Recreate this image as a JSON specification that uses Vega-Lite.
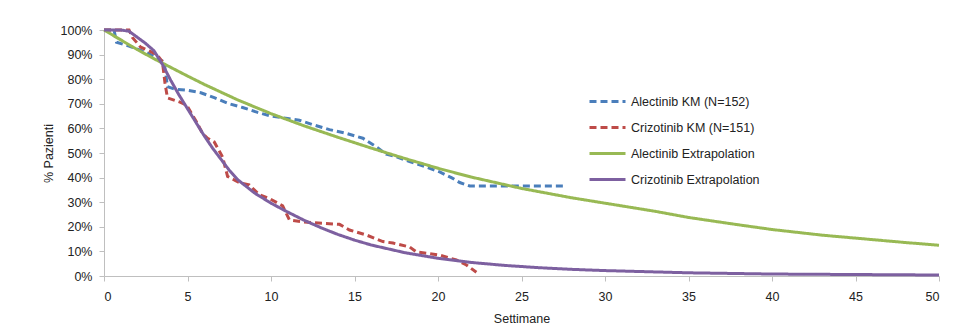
{
  "$schema": "https://vega.github.io/schema/vega-lite/v6.json",
  "width": 835,
  "height": 246,
  "autosize": {"type": "none"},
  "padding": {"left": 104, "top": 30, "right": 31, "bottom": 57},
  "background": "white",
  "config": {
    "view": {"stroke": null},
    "font": "Liberation Sans",
    "axis": {"labelFont": "Liberation Sans", "titleFont": "Liberation Sans", "labelColor": "#222", "titleColor": "#222", "titleFontWeight": "normal", "labelFontSize": 12.5, "titleFontSize": 12.5, "domainColor": "#bfbfbf", "tickColor": "#bfbfbf", "grid": false}
  },
  "data": {"values": [
    {"s": "Alectinib KM (N=152)", "w": 0, "p": 100},
    {"s": "Alectinib KM (N=152)", "w": 0.6, "p": 100},
    {"s": "Alectinib KM (N=152)", "w": 0.75, "p": 95},
    {"s": "Alectinib KM (N=152)", "w": 1.5, "p": 93.5},
    {"s": "Alectinib KM (N=152)", "w": 2.5, "p": 91},
    {"s": "Alectinib KM (N=152)", "w": 3.2, "p": 88.5},
    {"s": "Alectinib KM (N=152)", "w": 3.6, "p": 87},
    {"s": "Alectinib KM (N=152)", "w": 3.8, "p": 77},
    {"s": "Alectinib KM (N=152)", "w": 4.2, "p": 76},
    {"s": "Alectinib KM (N=152)", "w": 5, "p": 75.5},
    {"s": "Alectinib KM (N=152)", "w": 5.8, "p": 74.5},
    {"s": "Alectinib KM (N=152)", "w": 6.6, "p": 72.5},
    {"s": "Alectinib KM (N=152)", "w": 7.5, "p": 70},
    {"s": "Alectinib KM (N=152)", "w": 8.3, "p": 68.5},
    {"s": "Alectinib KM (N=152)", "w": 9.2, "p": 66.5},
    {"s": "Alectinib KM (N=152)", "w": 10, "p": 65},
    {"s": "Alectinib KM (N=152)", "w": 11, "p": 64},
    {"s": "Alectinib KM (N=152)", "w": 11.7, "p": 63.3},
    {"s": "Alectinib KM (N=152)", "w": 12.5, "p": 61.5},
    {"s": "Alectinib KM (N=152)", "w": 13.5, "p": 59.5},
    {"s": "Alectinib KM (N=152)", "w": 14.5, "p": 58},
    {"s": "Alectinib KM (N=152)", "w": 15.5, "p": 56},
    {"s": "Alectinib KM (N=152)", "w": 16.3, "p": 52.5},
    {"s": "Alectinib KM (N=152)", "w": 16.9, "p": 49.5},
    {"s": "Alectinib KM (N=152)", "w": 17.5, "p": 48.5},
    {"s": "Alectinib KM (N=152)", "w": 18.3, "p": 46.5},
    {"s": "Alectinib KM (N=152)", "w": 19.2, "p": 44.5},
    {"s": "Alectinib KM (N=152)", "w": 20.1, "p": 42.3},
    {"s": "Alectinib KM (N=152)", "w": 20.8, "p": 40},
    {"s": "Alectinib KM (N=152)", "w": 21.3, "p": 38},
    {"s": "Alectinib KM (N=152)", "w": 21.9, "p": 36.6},
    {"s": "Alectinib KM (N=152)", "w": 27.6, "p": 36.6},
    {"s": "Crizotinib KM (N=151)", "w": 0, "p": 100},
    {"s": "Crizotinib KM (N=151)", "w": 1.5, "p": 100},
    {"s": "Crizotinib KM (N=151)", "w": 1.7, "p": 97},
    {"s": "Crizotinib KM (N=151)", "w": 2.2, "p": 93},
    {"s": "Crizotinib KM (N=151)", "w": 2.7, "p": 91.5},
    {"s": "Crizotinib KM (N=151)", "w": 3.2, "p": 89.8},
    {"s": "Crizotinib KM (N=151)", "w": 3.5, "p": 87},
    {"s": "Crizotinib KM (N=151)", "w": 3.65, "p": 78.5},
    {"s": "Crizotinib KM (N=151)", "w": 3.8, "p": 72.4},
    {"s": "Crizotinib KM (N=151)", "w": 4.55, "p": 70.7},
    {"s": "Crizotinib KM (N=151)", "w": 4.95, "p": 69.5},
    {"s": "Crizotinib KM (N=151)", "w": 5.55, "p": 62.5},
    {"s": "Crizotinib KM (N=151)", "w": 5.9, "p": 58},
    {"s": "Crizotinib KM (N=151)", "w": 6.2, "p": 56},
    {"s": "Crizotinib KM (N=151)", "w": 6.6, "p": 54.5},
    {"s": "Crizotinib KM (N=151)", "w": 7.1, "p": 48.4},
    {"s": "Crizotinib KM (N=151)", "w": 7.4, "p": 40.5},
    {"s": "Crizotinib KM (N=151)", "w": 8.1, "p": 38},
    {"s": "Crizotinib KM (N=151)", "w": 8.7, "p": 37},
    {"s": "Crizotinib KM (N=151)", "w": 9.3, "p": 33},
    {"s": "Crizotinib KM (N=151)", "w": 9.9, "p": 31.5},
    {"s": "Crizotinib KM (N=151)", "w": 10.7, "p": 28.5},
    {"s": "Crizotinib KM (N=151)", "w": 11.1, "p": 22.8},
    {"s": "Crizotinib KM (N=151)", "w": 11.9, "p": 22},
    {"s": "Crizotinib KM (N=151)", "w": 14.1, "p": 21},
    {"s": "Crizotinib KM (N=151)", "w": 14.7, "p": 18.7},
    {"s": "Crizotinib KM (N=151)", "w": 15.7, "p": 16.7},
    {"s": "Crizotinib KM (N=151)", "w": 16.7, "p": 14},
    {"s": "Crizotinib KM (N=151)", "w": 17.3, "p": 13.4},
    {"s": "Crizotinib KM (N=151)", "w": 18.3, "p": 11.8},
    {"s": "Crizotinib KM (N=151)", "w": 18.7, "p": 9.8},
    {"s": "Crizotinib KM (N=151)", "w": 20.1, "p": 8.5},
    {"s": "Crizotinib KM (N=151)", "w": 21.1, "p": 6.5},
    {"s": "Crizotinib KM (N=151)", "w": 21.7, "p": 4.5},
    {"s": "Crizotinib KM (N=151)", "w": 22.3, "p": 1.5},
    {"s": "Alectinib Extrapolation", "w": 0, "p": 100},
    {"s": "Alectinib Extrapolation", "w": 1, "p": 96},
    {"s": "Alectinib Extrapolation", "w": 2, "p": 92},
    {"s": "Alectinib Extrapolation", "w": 3, "p": 88.3},
    {"s": "Alectinib Extrapolation", "w": 4, "p": 84.8},
    {"s": "Alectinib Extrapolation", "w": 5, "p": 81.3},
    {"s": "Alectinib Extrapolation", "w": 6, "p": 77.9},
    {"s": "Alectinib Extrapolation", "w": 8, "p": 71.6},
    {"s": "Alectinib Extrapolation", "w": 10, "p": 66},
    {"s": "Alectinib Extrapolation", "w": 12, "p": 61},
    {"s": "Alectinib Extrapolation", "w": 14, "p": 56.4},
    {"s": "Alectinib Extrapolation", "w": 16, "p": 52},
    {"s": "Alectinib Extrapolation", "w": 18, "p": 47.8},
    {"s": "Alectinib Extrapolation", "w": 20, "p": 43.8},
    {"s": "Alectinib Extrapolation", "w": 22, "p": 40.2},
    {"s": "Alectinib Extrapolation", "w": 25, "p": 35.6},
    {"s": "Alectinib Extrapolation", "w": 28, "p": 31.8},
    {"s": "Alectinib Extrapolation", "w": 30, "p": 29.6},
    {"s": "Alectinib Extrapolation", "w": 33, "p": 26.3},
    {"s": "Alectinib Extrapolation", "w": 35, "p": 23.8},
    {"s": "Alectinib Extrapolation", "w": 38, "p": 20.8},
    {"s": "Alectinib Extrapolation", "w": 40, "p": 18.9},
    {"s": "Alectinib Extrapolation", "w": 43, "p": 16.6},
    {"s": "Alectinib Extrapolation", "w": 45, "p": 15.4},
    {"s": "Alectinib Extrapolation", "w": 48, "p": 13.6},
    {"s": "Alectinib Extrapolation", "w": 50, "p": 12.5},
    {"s": "Crizotinib Extrapolation", "w": 0, "p": 100},
    {"s": "Crizotinib Extrapolation", "w": 1, "p": 100},
    {"s": "Crizotinib Extrapolation", "w": 1.5, "p": 99.5},
    {"s": "Crizotinib Extrapolation", "w": 2, "p": 97},
    {"s": "Crizotinib Extrapolation", "w": 2.5, "p": 94.5},
    {"s": "Crizotinib Extrapolation", "w": 3, "p": 91.5},
    {"s": "Crizotinib Extrapolation", "w": 3.5, "p": 86},
    {"s": "Crizotinib Extrapolation", "w": 4, "p": 79.5},
    {"s": "Crizotinib Extrapolation", "w": 4.5, "p": 73.5},
    {"s": "Crizotinib Extrapolation", "w": 5, "p": 68},
    {"s": "Crizotinib Extrapolation", "w": 5.5, "p": 62.5},
    {"s": "Crizotinib Extrapolation", "w": 6, "p": 57},
    {"s": "Crizotinib Extrapolation", "w": 6.5, "p": 52},
    {"s": "Crizotinib Extrapolation", "w": 7, "p": 47.5},
    {"s": "Crizotinib Extrapolation", "w": 7.5, "p": 43},
    {"s": "Crizotinib Extrapolation", "w": 8, "p": 39.2},
    {"s": "Crizotinib Extrapolation", "w": 9, "p": 33.8},
    {"s": "Crizotinib Extrapolation", "w": 10, "p": 29.6},
    {"s": "Crizotinib Extrapolation", "w": 11, "p": 26},
    {"s": "Crizotinib Extrapolation", "w": 12, "p": 22.6},
    {"s": "Crizotinib Extrapolation", "w": 13, "p": 19.6},
    {"s": "Crizotinib Extrapolation", "w": 14, "p": 16.9},
    {"s": "Crizotinib Extrapolation", "w": 15, "p": 14.6},
    {"s": "Crizotinib Extrapolation", "w": 16, "p": 12.6},
    {"s": "Crizotinib Extrapolation", "w": 18, "p": 9.5},
    {"s": "Crizotinib Extrapolation", "w": 20, "p": 7.2},
    {"s": "Crizotinib Extrapolation", "w": 22, "p": 5.5},
    {"s": "Crizotinib Extrapolation", "w": 24, "p": 4.3},
    {"s": "Crizotinib Extrapolation", "w": 26, "p": 3.4},
    {"s": "Crizotinib Extrapolation", "w": 28, "p": 2.7},
    {"s": "Crizotinib Extrapolation", "w": 30, "p": 2.2},
    {"s": "Crizotinib Extrapolation", "w": 35, "p": 1.3},
    {"s": "Crizotinib Extrapolation", "w": 40, "p": 0.8},
    {"s": "Crizotinib Extrapolation", "w": 45, "p": 0.6},
    {"s": "Crizotinib Extrapolation", "w": 50, "p": 0.4}
  ]},
  "mark": {"type": "line", "strokeCap": "butt"},
  "encoding": {
    "x": {"field": "w", "type": "quantitative", "title": "Settimane",
      "scale": {"domain": [0, 50], "nice": false, "zero": true},
      "axis": {"values": [0, 5, 10, 15, 20, 25, 30, 35, 40, 45, 50], "tickSize": 5, "labelPadding": 9, "titlePadding": 10}},
    "y": {"field": "p", "type": "quantitative", "title": "% Pazienti",
      "scale": {"domain": [0, 100], "nice": false},
      "axis": {"values": [0, 10, 20, 30, 40, 50, 60, 70, 80, 90, 100], "labelExpr": "datum.value + '%'", "tickSize": 5, "labelPadding": 7, "titlePadding": 5}},
    "color": {"field": "s", "type": "nominal",
      "scale": {"domain": ["Alectinib KM (N=152)", "Crizotinib KM (N=151)", "Alectinib Extrapolation", "Crizotinib Extrapolation"],
        "range": ["#4a7ebb", "#be4b48", "#98b954", "#7d60a0"]},
      "legend": {"title": null, "orient": "none", "legendX": 484, "legendY": 52, "symbolType": "stroke", "symbolSize": 1296, "symbolStrokeWidth": 2.5, "labelFontSize": 12.5, "labelFont": "Liberation Sans", "labelColor": "#222", "rowPadding": 0, "labelOffset": 4}},
    "strokeDash": {"field": "s", "type": "nominal",
      "scale": {"domain": ["Alectinib KM (N=152)", "Crizotinib KM (N=151)", "Alectinib Extrapolation", "Crizotinib Extrapolation"],
        "range": [[7, 4], [7, 4], [1, 0], [1, 0]]},
      "legend": {"title": null, "orient": "none", "legendX": 484, "legendY": 52, "symbolType": "stroke", "symbolSize": 1296, "symbolStrokeWidth": 2.5, "labelFontSize": 12.5, "labelFont": "Liberation Sans", "labelColor": "#222", "rowPadding": 0, "labelOffset": 4}},
    "strokeWidth": {"field": "s", "type": "nominal",
      "scale": {"domain": ["Alectinib KM (N=152)", "Crizotinib KM (N=151)", "Alectinib Extrapolation", "Crizotinib Extrapolation"],
        "range": [3, 3, 2, 2]},
      "legend": null}
  }
}
